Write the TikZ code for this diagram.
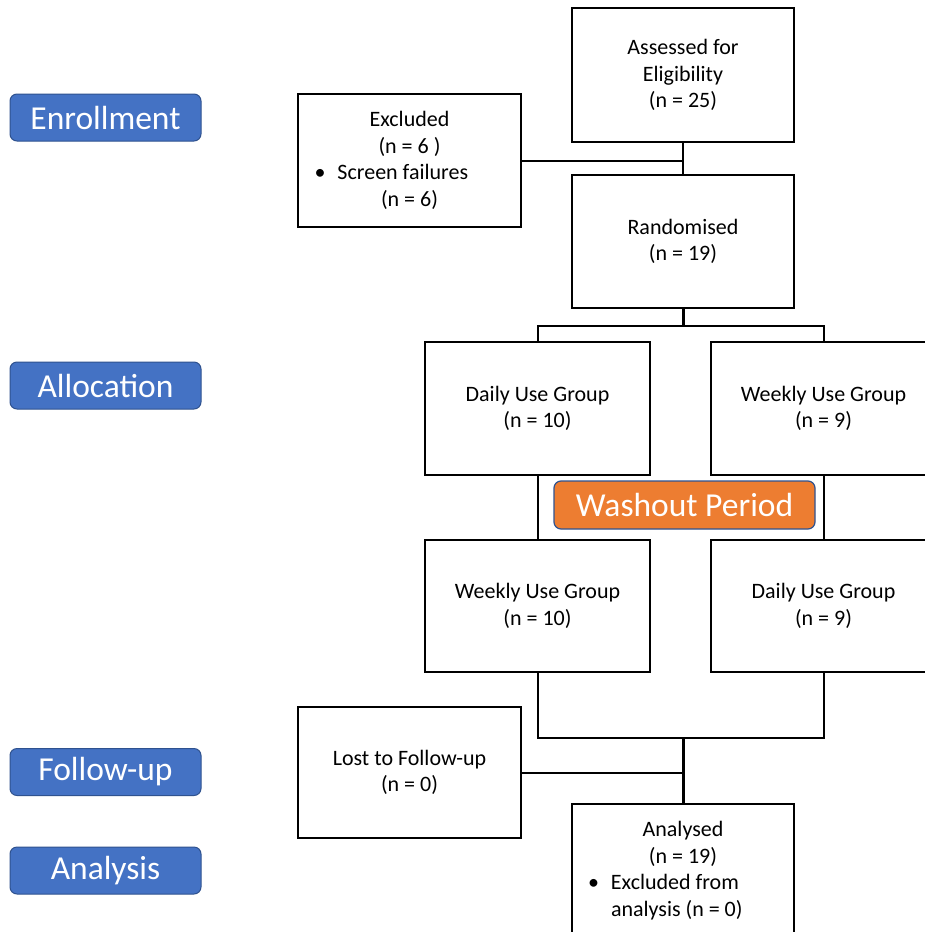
\documentclass[tikz,border=0pt]{standalone}
\usepackage{fontspec}
\setmainfont{Carlito}
\definecolor{lblue}{HTML}{4472C4}
\definecolor{lblueedge}{HTML}{2F528F}
\definecolor{orng}{HTML}{ED7D31}
\tikzset{
  flowbox/.style={draw=black, line width=2pt, fill=white, inner sep=0pt, align=center,
    font=\fontsize{22}{26.5}\selectfont},
  phase/.style={draw=lblueedge, line width=1pt, fill=lblue, rounded corners=7pt, inner sep=0pt,
    minimum width=191pt, minimum height=47pt, text=white, font=\fontsize{33.5}{38}\selectfont},
  washbox/.style={draw=lblueedge, line width=1.2pt, fill=orng, rounded corners=7pt, inner sep=0pt,
    minimum width=261pt, minimum height=48pt, text=white, font=\fontsize{33.5}{38}\selectfont},
  link/.style={draw=black, line width=2pt},
  trunk/.style={draw=black, line width=3pt}
}
\newcommand{\bulletline}[1]{\makebox[190pt][l]{\makebox[23pt][l]{•}#1}}
\newcommand{\indentline}[1]{\makebox[190pt][l]{\hspace*{23pt}#1}}
\begin{document}
\begin{tikzpicture}[x=1pt,y=-1pt]
\clip (0,0) rectangle (925,932);
\fill[white] (0,0) rectangle (925,932);

% phase labels
\node[phase] (enr) at (105.5,117.5) {Enrollment};
\node[phase] (alloc) at (105.5,385.5) {Allocation};
\node[phase] (fup) at (105.5,772) {Follow-up};
\node[phase] (ana) at (105.5,870.5) {Analysis};

% flow boxes
\node[flowbox, minimum width=222pt, minimum height=134pt] (assess) at (683,75)
  {Assessed for\\Eligibility\\(n = 25)};
\node[flowbox, minimum width=223pt, minimum height=133pt] (excl) at (409.5,160.5)
  {Excluded\\(n = 6 )\\\bulletline{Screen failures}\\(n = 6)};
\node[flowbox, minimum width=222pt, minimum height=133pt] (rand) at (683,241.5)
  {Randomised\\(n = 19)};
\node[flowbox, minimum width=225pt, minimum height=133pt] (daily1) at (537.5,408.5)
  {Daily Use Group\\(n = 10)};
\node[flowbox, minimum width=225pt, minimum height=133pt] (weekly1) at (823.5,408.5)
  {Weekly Use Group\\(n = 9)};
\node[flowbox, minimum width=225pt, minimum height=132pt] (weekly2) at (537.5,606)
  {Weekly Use Group\\(n = 10)};
\node[flowbox, minimum width=225pt, minimum height=132pt] (daily2) at (823.5,606)
  {Daily Use Group\\(n = 9)};
\node[flowbox, minimum width=223pt, minimum height=131pt] (lost) at (409.5,772.5)
  {Lost to Follow-up\\(n = 0)};
\node[flowbox, minimum width=222pt, minimum height=133pt] (anal) at (683,870.5)
  {Analysed\\(n = 19)\\\bulletline{Excluded from}\\\indentline{analysis (n = 0)}};

% connectors
\coordinate (b1) at (683,326);
\coordinate (b2) at (683,738);
\draw[link] (assess.south) -- (rand.north);
\draw[link] (excl.east) -- (excl.east -| assess.south);
\draw[trunk] (rand.south) -- (b1);
\draw[link] (daily1.north) |- (b1) -| (weekly1.north);
\draw[link] (daily1.south) -- (weekly2.north);
\draw[link] (weekly1.south) -- (daily2.north);
\draw[link] (weekly2.south) |- (b2) -| (daily2.south);
\draw[trunk] (b2) -- (anal.north);
\draw[link] (lost.east) -- (lost.east -| anal.north);

% washout label
\node[washbox] (wash) at (684.5,505) {Washout Period};
\end{tikzpicture}
\end{document}
